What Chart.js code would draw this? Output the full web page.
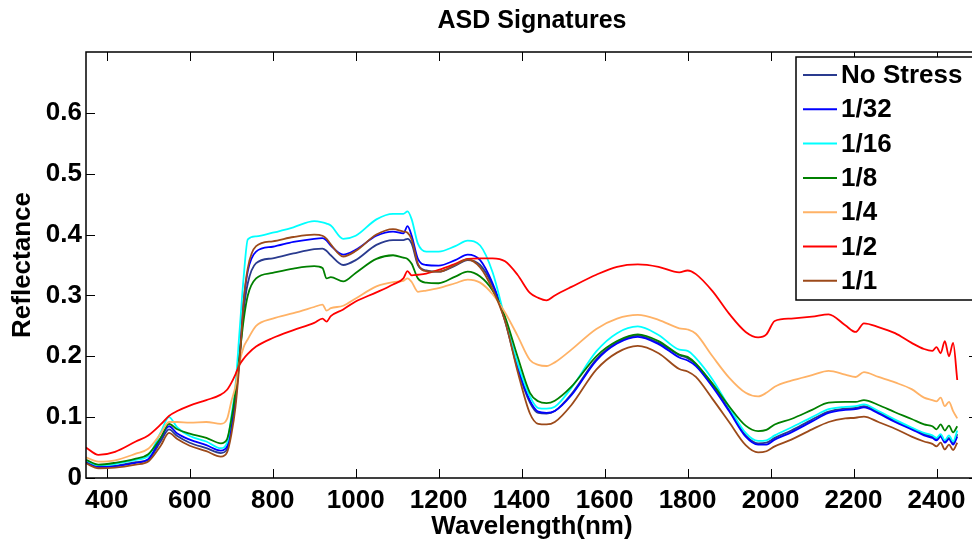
<!DOCTYPE html>
<html lang="en">
<head>
  <meta charset="UTF-8" />
  <title>ASD Signatures</title>
  <script src="https://cdn.jsdelivr.net/npm/chart.js"></script>
  <style>
    html, body { margin: 0; padding: 0; background: #fff; overflow: hidden; }
    #spectra { display: block; }
  </style>
</head>
<body>
  <canvas id="spectra" width="980" height="544"></canvas>

  <script>
    // wavelengths (nm) shared by every spectrum
    const wavelengths = [350, 380, 420, 470, 500, 530, 550, 570, 600, 640, 675, 690, 700, 710, 720, 730, 740, 760, 800, 850,
      900, 920, 930, 940, 970, 1000, 1050, 1090, 1115, 1125, 1135, 1150, 1170, 1200, 1240, 1270, 1300, 1330, 1360, 1390,
      1420, 1440, 1460, 1480, 1520, 1580, 1630, 1680, 1730, 1780, 1800, 1820, 1860, 1900, 1940, 1970, 1990, 2010, 2050, 2100,
      2140, 2180, 2205, 2225, 2260, 2300, 2340, 2370, 2390, 2400, 2410, 2420, 2430, 2440, 2450];

    const seriesNames = ["No Stress", "1/32", "1/16", "1/8", "1/4", "1/2", "1/1"];
    const seriesColors = ["#2a3b8f", "#0000ff", "#00ffff", "#008000", "#ffb266", "#ff0000", "#9c4a1a"];

    const noStress = [0.027, 0.019, 0.020, 0.026, 0.030, 0.060, 0.080, 0.069, 0.058, 0.049, 0.041, 0.047, 0.080, 0.125, 0.195, 0.275, 0.320, 0.353, 0.361, 0.369,
      0.376, 0.377, 0.373, 0.366, 0.350, 0.358, 0.383, 0.391, 0.391, 0.393, 0.385, 0.350, 0.341, 0.339, 0.349, 0.358, 0.350, 0.316, 0.258, 0.180,
      0.124, 0.107, 0.106, 0.110, 0.138, 0.195, 0.223, 0.234, 0.222, 0.202, 0.197, 0.187, 0.153, 0.112, 0.070, 0.057, 0.058, 0.066, 0.078, 0.096,
      0.109, 0.114, 0.115, 0.118, 0.108, 0.094, 0.082, 0.072, 0.068, 0.064, 0.070, 0.060, 0.066, 0.057, 0.072];

    const stress1_32 = [0.025, 0.018, 0.019, 0.025, 0.031, 0.065, 0.085, 0.073, 0.063, 0.054, 0.045, 0.052, 0.085, 0.130, 0.200, 0.290, 0.340, 0.372, 0.380, 0.388,
      0.393, 0.394, 0.390, 0.382, 0.367, 0.375, 0.398, 0.405, 0.402, 0.414, 0.398, 0.360, 0.350, 0.349, 0.358, 0.367, 0.358, 0.320, 0.262, 0.184,
      0.127, 0.109, 0.107, 0.110, 0.136, 0.193, 0.221, 0.232, 0.220, 0.198, 0.193, 0.184, 0.150, 0.110, 0.068, 0.055, 0.055, 0.063, 0.075, 0.093,
      0.107, 0.112, 0.113, 0.116, 0.106, 0.092, 0.080, 0.070, 0.066, 0.062, 0.068, 0.058, 0.064, 0.055, 0.068];

    const stress1_16 = [0.029, 0.021, 0.023, 0.030, 0.036, 0.075, 0.100, 0.083, 0.069, 0.060, 0.049, 0.058, 0.100, 0.150, 0.240, 0.330, 0.392, 0.397, 0.403, 0.412,
      0.422, 0.420, 0.418, 0.415, 0.393, 0.398, 0.425, 0.434, 0.434, 0.438, 0.425, 0.385, 0.372, 0.372, 0.381, 0.390, 0.382, 0.338, 0.262, 0.190,
      0.134, 0.115, 0.114, 0.117, 0.148, 0.208, 0.238, 0.249, 0.235, 0.211, 0.209, 0.197, 0.162, 0.117, 0.074, 0.061, 0.062, 0.070, 0.083, 0.100,
      0.113, 0.117, 0.118, 0.121, 0.110, 0.096, 0.083, 0.074, 0.070, 0.066, 0.072, 0.062, 0.070, 0.060, 0.078];

    const stress1_8 = [0.030, 0.022, 0.025, 0.032, 0.039, 0.066, 0.089, 0.080, 0.073, 0.066, 0.057, 0.064, 0.095, 0.140, 0.200, 0.260, 0.300, 0.328, 0.337, 0.344,
      0.348, 0.345, 0.328, 0.330, 0.323, 0.337, 0.360, 0.366, 0.362, 0.360, 0.352, 0.328, 0.321, 0.320, 0.331, 0.339, 0.331, 0.308, 0.265, 0.200,
      0.140, 0.126, 0.123, 0.127, 0.150, 0.200, 0.225, 0.236, 0.225, 0.203, 0.199, 0.188, 0.155, 0.118, 0.086, 0.077, 0.079, 0.088, 0.097, 0.112,
      0.124, 0.125, 0.125, 0.128, 0.120, 0.108, 0.097, 0.088, 0.085, 0.080, 0.088, 0.078, 0.086, 0.075, 0.085];

    const stress1_4 = [0.034, 0.027, 0.029, 0.040, 0.048, 0.073, 0.092, 0.092, 0.091, 0.092, 0.089, 0.097, 0.125, 0.150, 0.190, 0.215, 0.228, 0.250, 0.262, 0.271,
      0.281, 0.285, 0.275, 0.279, 0.283, 0.295, 0.315, 0.322, 0.324, 0.328, 0.322, 0.306, 0.308, 0.312, 0.320, 0.326, 0.321, 0.302, 0.272, 0.234,
      0.194, 0.186, 0.184, 0.190, 0.211, 0.245, 0.262, 0.268, 0.260, 0.246, 0.244, 0.237, 0.200, 0.165, 0.140, 0.134, 0.140, 0.150, 0.160, 0.169,
      0.176, 0.170, 0.166, 0.174, 0.166, 0.157, 0.146, 0.132, 0.128, 0.126, 0.132, 0.118, 0.125, 0.110, 0.098];

    const stress1_2 = [0.050, 0.038, 0.043, 0.060, 0.070, 0.088, 0.102, 0.110, 0.119, 0.128, 0.137, 0.145, 0.156, 0.170, 0.186, 0.196, 0.204, 0.216, 0.230, 0.243,
      0.255, 0.262, 0.257, 0.266, 0.277, 0.290, 0.305, 0.318, 0.328, 0.340, 0.333, 0.334, 0.336, 0.342, 0.352, 0.360, 0.361, 0.361, 0.356, 0.334,
      0.304, 0.296, 0.292, 0.300, 0.314, 0.334, 0.347, 0.351, 0.347, 0.338, 0.341, 0.335, 0.307, 0.270, 0.240, 0.231, 0.236, 0.258, 0.262, 0.265,
      0.269, 0.251, 0.240, 0.254, 0.248, 0.238, 0.222, 0.212, 0.209, 0.215, 0.205, 0.225, 0.200, 0.222, 0.161];

    const stress1_1 = [0.024, 0.016, 0.017, 0.022, 0.027, 0.053, 0.074, 0.064, 0.053, 0.044, 0.035, 0.042, 0.070, 0.115, 0.190, 0.290, 0.345, 0.381, 0.389, 0.396,
      0.400, 0.398, 0.393, 0.384, 0.364, 0.373, 0.400, 0.409, 0.405, 0.403, 0.392, 0.352, 0.340, 0.339, 0.350, 0.359, 0.346, 0.310, 0.258, 0.176,
      0.106, 0.089, 0.088, 0.092, 0.120, 0.178, 0.206, 0.217, 0.205, 0.179, 0.175, 0.166, 0.130, 0.092, 0.054, 0.042, 0.044, 0.052, 0.063, 0.080,
      0.092, 0.098, 0.099, 0.101, 0.092, 0.081, 0.068, 0.060, 0.056, 0.052, 0.058, 0.047, 0.055, 0.046, 0.058];

    const seriesValues = [noStress, stress1_32, stress1_16, stress1_8, stress1_4, stress1_2, stress1_1];

    const xTicks = [400, 600, 800, 1000, 1200, 1400, 1600, 1800, 2000, 2200, 2400];
    const yTicks = [0, 0.1, 0.2, 0.3, 0.4, 0.5, 0.6];

    const FONT = "'Liberation Sans', Arial, Helvetica, sans-serif";
    Chart.defaults.color = "#000";
    Chart.defaults.font.family = FONT;

    // axes box, inward ticks on all four sides, and the boxed legend
    const matlabFrame = {
      id: "matlabFrame",
      afterDatasetsDraw(chart) {
        const { ctx, chartArea: a, scales: { x, y } } = chart;
        ctx.save();
        ctx.strokeStyle = "#000";
        ctx.lineWidth = 1;
        ctx.beginPath();
        x.ticks.forEach(t => {
          const px = Math.round(x.getPixelForValue(t.value)) + 0.5;
          ctx.moveTo(px, a.bottom); ctx.lineTo(px, a.bottom - 9);
          ctx.moveTo(px, a.top); ctx.lineTo(px, a.top + 9);
        });
        y.ticks.forEach(t => {
          const py = Math.round(y.getPixelForValue(t.value)) + 0.5;
          ctx.moveTo(a.left, py); ctx.lineTo(a.left + 9, py);
          ctx.moveTo(a.right, py); ctx.lineTo(a.right - 9, py);
        });
        ctx.stroke();

        ctx.lineWidth = 1.5;
        ctx.strokeRect(a.left, a.top, a.right - a.left, a.bottom - a.top);

        // legend
        const lx = a.right - 182, ly = a.top + 5, lw = 182, lh = 243;
        ctx.fillStyle = "#fff";
        ctx.fillRect(lx, ly, lw, lh);
        ctx.strokeRect(lx, ly, lw, lh);
        ctx.font = "bold 26px " + FONT;
        ctx.textBaseline = "middle";
        chart.data.datasets.forEach((ds, i) => {
          const cy = ly + 18 + i * 34.3;
          ctx.strokeStyle = ds.borderColor;
          ctx.lineWidth = 2;
          ctx.beginPath();
          ctx.moveTo(lx + 7, cy); ctx.lineTo(lx + 41, cy);
          ctx.stroke();
          ctx.fillStyle = "#000";
          ctx.fillText(ds.label, lx + 45, cy + 1);
        });
        ctx.restore();
      }
    };

    const datasets = seriesNames.map((name, i) => ({
      label: name,
      data: wavelengths.map((w, j) => ({ x: w, y: seriesValues[i][j] })),
      borderColor: seriesColors[i],
      borderWidth: 1.8,
      pointRadius: 0,
      cubicInterpolationMode: "monotone",
      fill: false,
      order: seriesNames.length - i
    }));

    new Chart(document.getElementById("spectra"), {
      type: "line",
      data: { datasets },
      plugins: [matlabFrame],
      options: {
        responsive: false,
        animation: false,
        layout: { padding: { left: 0, right: 2, top: 0, bottom: 0 } },
        plugins: {
          legend: { display: false },
          tooltip: { enabled: false },
          title: {
            display: true,
            text: "ASD Signatures",
            fullSize: false,
            font: { size: 25, weight: "bold", family: FONT },
            padding: { top: 6, bottom: 16 }
          }
        },
        scales: {
          x: {
            type: "linear",
            min: 350,
            max: 2500,
            afterBuildTicks: s => { s.ticks = xTicks.map(v => ({ value: v })); },
            afterFit: s => { s.height = 66; },
            grid: { display: false, drawTicks: false },
            border: { display: false },
            ticks: {
              padding: 7,
              maxRotation: 0,
              autoSkip: false,
              font: { size: 26, weight: "bold" },
              callback: v => String(v)
            },
            title: {
              display: true,
              text: "Wavelength(nm)",
              font: { size: 26, weight: "bold" },
              padding: { top: 0, bottom: 2 }
            }
          },
          y: {
            min: 0,
            max: 0.7,
            afterBuildTicks: s => { s.ticks = yTicks.map(v => ({ value: v })); },
            afterFit: s => { s.width = 86; },
            grid: { display: false, drawTicks: false },
            border: { display: false },
            ticks: {
              padding: 4,
              font: { size: 26, weight: "bold" },
              callback: v => (v === 0 ? "0" : v.toFixed(1))
            },
            title: {
              display: true,
              text: "Reflectance",
              font: { size: 26, weight: "bold" },
              padding: { top: 7, bottom: 0 }
            }
          }
        }
      }
    });
  </script>
</body>
</html>
